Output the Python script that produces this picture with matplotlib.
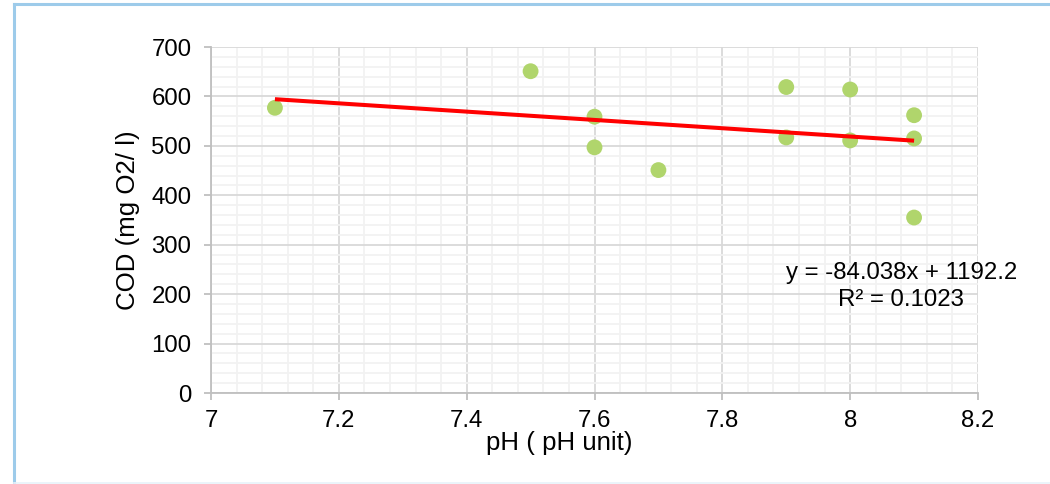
import numpy as np
import matplotlib
matplotlib.use("Agg")
import matplotlib.pyplot as plt
from matplotlib.ticker import MultipleLocator
from matplotlib.lines import Line2D

plt.rcParams['font.family'] = ['Liberation Sans', 'DejaVu Sans']

ph = [7.1, 7.5, 7.6, 7.6, 7.7, 7.9, 7.9, 8.0, 8.0, 8.1, 8.1, 8.1]
cod = [577, 651, 559, 497, 451, 619, 517, 614, 511, 562, 515, 355]
equation_lines = ["y = -84.038x + 1192.2", "R² = 0.1023"]
x_label = "pH ( pH unit)"
y_label = "COD (mg O2/ l)"

W, H = 1050, 484
fig = plt.figure(figsize=(W/100, H/100), dpi=100)
ax = fig.add_axes([211/W, 1 - 393/H, (978-211)/W, (393-47)/H])

ax.set_xlim(7, 8.2)
ax.set_ylim(0, 700)
ax.xaxis.set_major_locator(MultipleLocator(0.2))
ax.xaxis.set_minor_locator(MultipleLocator(0.04))
ax.yaxis.set_major_locator(MultipleLocator(100))
ax.yaxis.set_minor_locator(MultipleLocator(20))
ax.xaxis.set_major_formatter(plt.FuncFormatter(lambda v, p: f"{v:g}"))

ax.grid(which='minor', color='#F2F2F2', linewidth=1.3, zorder=0)
ax.grid(which='major', color='#D9D9D9', linewidth=1.3, zorder=0.5)
ax.set_axisbelow(True)

for s in ['top', 'right']:
    ax.spines[s].set_visible(False)
for s in ['left', 'bottom']:
    ax.spines[s].set_color('#BFBFBF')
    ax.spines[s].set_linewidth(1.3)

ax.tick_params(which='major', length=5, color='#BFBFBF', width=1.3, labelsize=17.3, pad=9)
ax.tick_params(axis='x', which='major', pad=7.5)
ax.tick_params(which='minor', length=0)

ax.scatter(ph, cod, s=130, color='#B0D56C', edgecolors='none', zorder=3)

coef = np.polyfit(ph, cod, 1)
xs = np.array([min(ph), max(ph)])
ax.plot(xs, np.polyval(coef, xs), color='#FF0000', linewidth=2.9, zorder=4, solid_capstyle='butt')

ax.text(8.08, 231.0, equation_lines[0], ha='center', va='baseline', fontsize=17.3, zorder=5)
ax.text(8.08, 176.5, equation_lines[1], ha='center', va='baseline', fontsize=17.3, zorder=5)

ax.set_xlabel(x_label, fontsize=18.6)
ax.xaxis.label.set_va('baseline')
ax.xaxis.set_label_coords((559-211)/767, (393-450)/346)
ax.set_ylabel(y_label, fontsize=18.6)
ax.yaxis.label.set_va('center')
ax.yaxis.set_label_coords((128-211)/767, 0.5)

# chart area border
fig.add_artist(Line2D([13.5/W, 13.5/W], [1 - 4/H, 0], transform=fig.transFigure, color='#9DCBEA', linewidth=2.2))
fig.add_artist(Line2D([13.5/W, 1], [1 - 4/H, 1 - 4/H], transform=fig.transFigure, color='#9DCBEA', linewidth=2.2))
fig.add_artist(Line2D([13.5/W, 1], [0.8/H, 0.8/H], transform=fig.transFigure, color='#E8F2FA', linewidth=1.2))

fig.savefig("out.png", dpi=100)
